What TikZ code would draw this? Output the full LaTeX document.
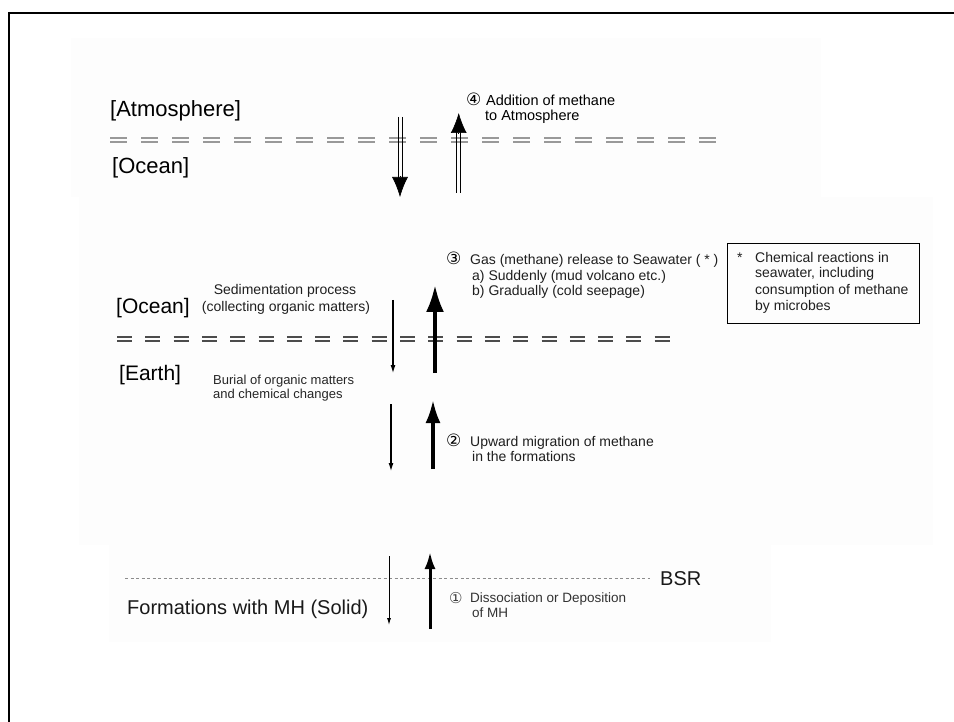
\documentclass[tikz,border=0pt]{standalone}
\usepackage{fontspec}
\setmainfont{Liberation Sans}
\newfontfamily\symfont{DejaVu Sans}
\usetikzlibrary{arrows.meta}
\begin{document}
\begin{tikzpicture}[x=1pt,y=-1pt,
  txt/.style={inner sep=0pt, anchor=base west, text=black},
  big/.style={txt, font=\fontsize{21}{24}\selectfont},
  mid/.style={txt, font=\fontsize{14}{16}\selectfont, text=black!88},
  sml/.style={txt, font=\fontsize{13}{15}\selectfont, text=black!85},
  circ/.style={txt, font=\symfont\fontsize{17}{18}\selectfont},
  panel/.style={fill=black!0.6, draw=none},
  thinarrow/.style={line width=1.1pt, -{Latex[length=8pt,width=5pt]}},
  thickarrow/.style={line width=3.8pt, -{Latex[length=27pt,width=18pt]}},
  dblline/.style={line width=0.8pt},
  dbltip/.style={line width=0.6pt, -{Latex[length=20pt,width=16pt]}},
  lightdash/.style={black!40, line width=1.3pt, dash pattern=on 17pt off 14pt},
  darkdash/.style={black!70, line width=1.3pt, dash pattern=on 15pt off 13.3pt},
  dotline/.style={black!45, line width=0.9pt, dash pattern=on 3pt off 2.5pt}
]
\useasboundingbox (0,0) rectangle (954,722);
% faint panels
\fill[panel] (71,38) rectangle (821,197);
\fill[panel] (79,197) rectangle (933,545);
\fill[panel] (109,545) rectangle (771,642);
% frame
\draw[line width=2.5pt] (9,13) -- (954,13);
\draw[line width=1.5pt] (9,12) -- (9,722);

% ---------- top panel ----------
\node[big, font=\fontsize{22}{24}\selectfont] (atm) at (110,117) {[Atmosphere]};
\node[big, font=\fontsize{22}{24}\selectfont] (oc1) at (112,174) {[Ocean]};
\draw[lightdash] (110,138) -- (716,138);
\draw[lightdash] (110,142) -- (716,142);
% down double arrow
\coordinate (d1l) at (398,117); \coordinate (d2l) at (398,180);
\coordinate (d1r) at (402,117); \coordinate (d2r) at (402,180);
\coordinate (d2a) at (400,176); \coordinate (d3) at (400,197);
\draw[dblline] (d1l) -- (d2l);
\draw[dblline] (d1r) -- (d2r);
\draw[dbltip] (d2a) -- (d3);
% up double arrow
\coordinate (u1l) at (456.7,193); \coordinate (u2l) at (456.7,131);
\coordinate (u1r) at (460.7,193); \coordinate (u2r) at (460.7,131);
\coordinate (u2a) at (458.7,134); \coordinate (u3) at (458.7,113);
\draw[dblline] (u1l) -- (u2l);
\draw[dblline] (u1r) -- (u2r);
\draw[dbltip] (u2a) -- (u3);
\node[circ] (n4) at (466,106) {④};
\node[txt, font=\fontsize{14.5}{16}\selectfont] (t4a) at (486,106) {Addition of methane};
\node[txt, font=\fontsize{14.5}{16}\selectfont] (t4b) at (485,120.5) {to Atmosphere};

% ---------- middle panel ----------
\node[mid, anchor=base] (sed1) at (285,295) {Sedimentation process};
\node[mid, anchor=base] (sed2) at (286,312) {(collecting organic matters)};
\node[big] (oc2) at (116,314) {[Ocean]};
\draw[darkdash] (117,337) -- (670,337);
\draw[darkdash] (117,341) -- (670,341);
\node[big] (earth) at (119,381) {[Earth]};
\node[sml] (bur1) at (213,384.5) {Burial of organic matters};
\node[sml] (bur2) at (213,398.5) {and chemical changes};

\coordinate (a1s) at (393,300); \coordinate (a1e) at (393,373);
\draw[thinarrow] (a1s) -- (a1e);
\coordinate (b1s) at (435,373); \coordinate (b1e) at (435,285);
\draw[thickarrow] (b1s) -- (b1e);

\node[circ] (n3) at (446,265) {③};
\node[mid] (g1) at (470,265) {Gas (methane) release to Seawater ( * )};
\node[mid] (g2) at (472,281) {a) Suddenly (mud volcano etc.)};
\node[mid] (g3) at (472,296) {b) Gradually (cold seepage)};

\node[draw, line width=1.3pt, inner sep=0pt, minimum width=192pt, minimum height=80pt, anchor=north west] (box) at (727,243) {};
\node[mid] (star) at (737,263) {*};
\node[mid] (c1) at (755,263) {Chemical reactions in};
\node[mid] (c2) at (755,278) {seawater, including};
\node[mid] (c3) at (755,294.5) {consumption of methane};
\node[mid] (c4) at (755,310.5) {by microbes};

\coordinate (a2s) at (391,404); \coordinate (a2e) at (391,471);
\draw[thinarrow] (a2s) -- (a2e);
\coordinate (b2s) at (433,469); \coordinate (b2e) at (433,400);
\draw[thickarrow, line width=3.4pt, -{Latex[length=23pt,width=15pt]}] (b2s) -- (b2e);
\node[circ] (n2) at (446,446) {②};
\node[mid] (m1) at (470,446) {Upward migration of methane};
\node[mid] (m2) at (472,461.5) {in the formations};

% ---------- bottom panel ----------
\draw[dotline] (125,578) -- (650,578);
\node[txt, font=\fontsize{20}{22}\selectfont, text=black!90] (bsr) at (660,585) {BSR};
\node[txt, font=\fontsize{20}{22}\selectfont, text=black!90] (form) at (127,614) {Formations with MH (Solid)};
\coordinate (a3s) at (389,556); \coordinate (a3e) at (389,625);
\draw[thinarrow, line width=0.9pt, -{Latex[length=7pt,width=4pt]}] (a3s) -- (a3e);
\coordinate (b3s) at (430,629); \coordinate (b3e) at (430,552);
\draw[thickarrow, line width=3pt, -{Latex[length=17pt,width=11pt]}] (b3s) -- (b3e);
\node[circ, font=\symfont\fontsize{15}{16}\selectfont, text=black!75] (n1) at (449,603) {①};
\node[sml, font=\fontsize{13.5}{15}\selectfont, text=black!80] (d1t) at (470,602.5) {Dissociation or Deposition};
\node[sml, font=\fontsize{13.5}{15}\selectfont, text=black!80] (d2t) at (472,617.5) {of MH};
\end{tikzpicture}
\end{document}
